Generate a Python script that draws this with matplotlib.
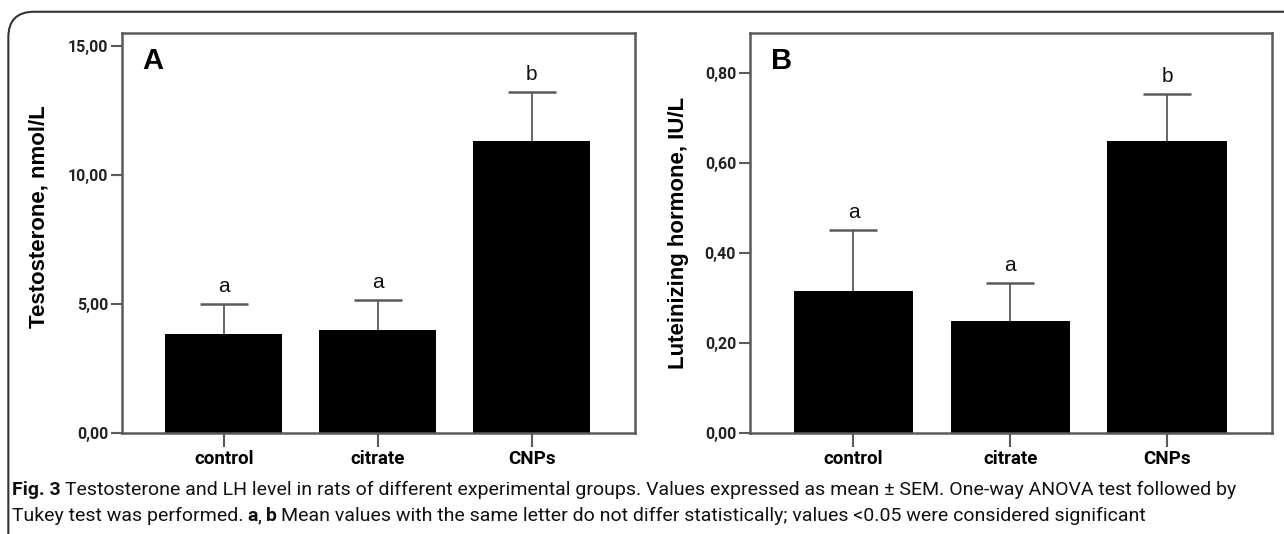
import matplotlib
matplotlib.use("Agg")
import matplotlib.pyplot as plt
from matplotlib.patches import FancyBboxPatch
from matplotlib.ticker import FuncFormatter, FixedLocator

groups = ["control", "citrate", "CNPs"]

testosterone = [3.84, 4.01, 11.32]
testosterone_sem = [1.14, 1.14, 1.88]
testosterone_letters = ["a", "a", "b"]

lh = [0.316, 0.250, 0.648]
lh_sem = [0.136, 0.084, 0.106]
lh_letters = ["a", "a", "b"]

caption_1 = [("Fig. 3", "bold"),
             ("Testosterone and LH level in rats of different experimental groups. Values expressed as "
              "mean \u00b1 SEM. One-way ANOVA test followed by", "normal")]
caption_2 = [("Tukey test was performed.", "normal"), ("a", "bold"), (",", "normal"), ("b", "bold"),
             ("Mean values with the same letter do not differ statistically; values <0.05 were "
              "considered significant", "normal")]

spine_color = "#5a5a5a"
W, H = 1284, 534


def comma_fmt(v, pos):
    return f"{v:.2f}".replace(".", ",")


def draw_panel(ax, values, sems, letters, ylim, ticks, ylabel, tag, label_xy):
    x = range(len(groups))
    ax.bar(x, values, width=0.76, color="black", zorder=2)
    _, caps, _ = ax.errorbar(x, values, yerr=[[0] * len(sems), sems], fmt="none",
                             ecolor=spine_color, elinewidth=1.3, capsize=17,
                             capthick=1.8, zorder=1)
    caps[0].set_visible(False)
    for i, (v, s, t) in enumerate(zip(values, sems, letters)):
        ax.text(i, v + s + ylim * 0.02, t, ha="center", va="bottom",
                fontsize=15, family="Liberation Sans", color="#111111")
    ax.set_xlim(-0.66, 2.67)
    ax.set_ylim(0, ylim)
    ax.yaxis.set_major_locator(FixedLocator(ticks))
    ax.yaxis.set_major_formatter(FuncFormatter(comma_fmt))
    ax.set_xticks(list(x))
    ax.set_xticklabels(groups, fontsize=13.5, fontweight="bold", family="Roboto")
    for lab in ax.get_yticklabels():
        lab.set_fontsize(11.5)
        lab.set_fontweight("bold")
        lab.set_family("Roboto")
        lab.set_color("#222222")
    ax.tick_params(axis="both", direction="out", length=8, width=1.5,
                   color=spine_color, pad=2)
    ax.tick_params(axis="x", length=10)
    for sp in ax.spines.values():
        sp.set_color(spine_color)
        sp.set_linewidth(1.8)
    ax.set_ylabel(ylabel, fontsize=16, fontweight="bold", family="Liberation Sans")
    ax.yaxis.set_label_coords(*label_xy)
    ax.text(0.04, 0.93, tag, transform=ax.transAxes, fontsize=21,
            fontweight="bold", family="Liberation Sans", va="center", ha="left")


def write_line(fig, runs, x0, y, size):
    x = x0
    out = []
    for k, (txt, weight) in enumerate(runs):
        if k > 0 and txt != ",":
            x += 4
        t = fig.text(x / W, 1 - y / H, txt, fontsize=size, fontweight=weight,
                     family="Roboto", color="#111111", va="center")
        fig.canvas.draw()
        x = t.get_window_extent().x1
        out.append(t)
    return out, x


fig = plt.figure(figsize=(12.84, 5.34), dpi=100)
ax_a = fig.add_axes([0.0950, 0.1891, 0.3995, 0.7491])
ax_b = fig.add_axes([0.5841, 0.1891, 0.4066, 0.7491])

draw_panel(ax_a, testosterone, testosterone_sem, testosterone_letters,
           15.5, [0, 5, 10, 15], "Testosterone, nmol/L", "A", (-0.142, 0.54))
draw_panel(ax_b, lh, lh_sem, lh_letters,
           0.889, [0, 0.2, 0.4, 0.6, 0.8], "Luteinizing hormone, IU/L", "B", (-0.117, 0.5))

frame = FancyBboxPatch((0.0065, -0.2), 1.2, 1.178, transform=fig.transFigure,
                       boxstyle="round,pad=0,rounding_size=0.02", fill=False,
                       edgecolor="#333333", linewidth=1.5, mutation_aspect=2.4)
fig.patches.append(frame)

# fit the first caption line to the width it has in the source
size = 12.0
texts, x_end = write_line(fig, caption_1, 12, 490, size)
for t in texts:
    t.remove()
size = size * (1230 - 12) / (x_end - 12)
write_line(fig, caption_1, 12, 490, size)
write_line(fig, caption_2, 12, 516, size)

fig.savefig("out.png", dpi=100)
